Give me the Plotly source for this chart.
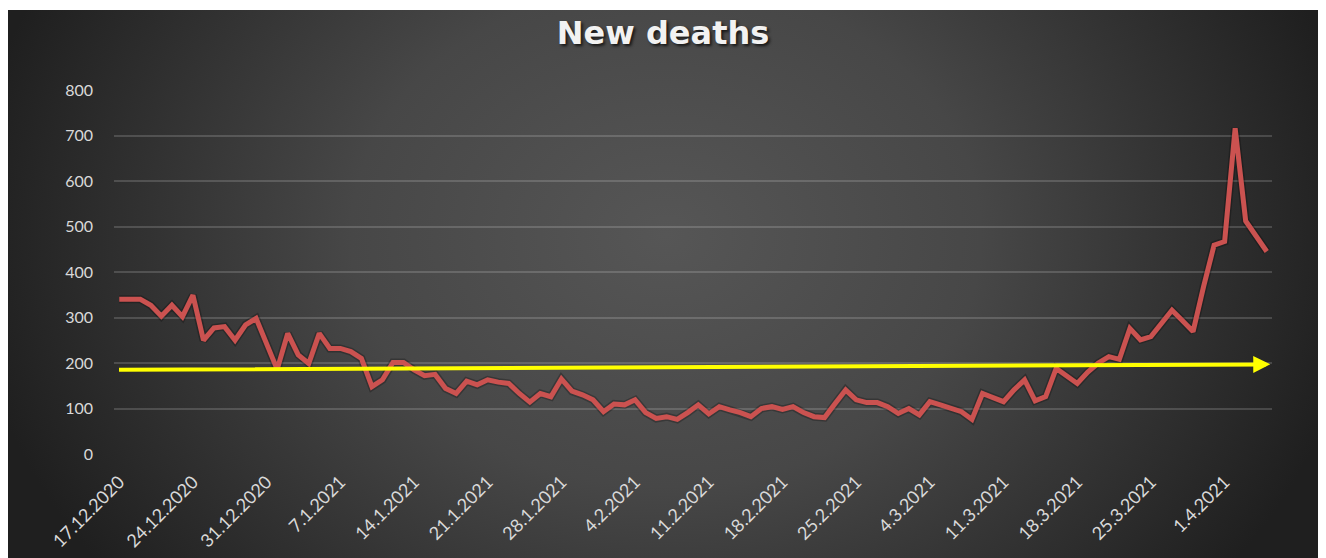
import base64
import pandas as pd
import plotly.graph_objects as go

# ---------------- data ----------------
start_date = "2020-12-17"
deaths = [
    340, 340, 340, 327, 303, 327, 302, 349, 250, 277,
    280, 250, 284, 298, 244, 186, 265, 218, 199, 265,
    232, 232, 225, 210, 148, 163, 201, 201, 185, 172,
    175, 144, 133, 160, 152, 163, 158, 155, 133, 114,
    133, 126, 165, 138, 130, 119, 93, 110, 108, 119,
    91, 78, 82, 76, 91, 108, 88, 104, 97, 91,
    82, 100, 104, 98, 104, 91, 82, 80, 111, 141,
    119, 113, 113, 104, 89, 100, 86, 115, 108, 100,
    93, 76, 133, 124, 115, 141, 163, 117, 126, 188,
    172, 155, 180, 200, 214, 208, 276, 251, 258, 289,
    316, 293, 269, 368, 459, 467, 716, 512, 480, 445,
]
tick_labels = [
    "17.12.2020", "24.12.2020", "31.12.2020", "7.1.2021", "14.1.2021",
    "21.1.2021", "28.1.2021", "4.2.2021", "11.2.2021", "18.2.2021",
    "25.2.2021", "4.3.2021", "11.3.2021", "18.3.2021", "25.3.2021", "1.4.2021",
]
y_ticks = [0, 100, 200, 300, 400, 500, 600, 700, 800]
trend_values = [185, 197]  # yellow arrow: start / end level

dates = pd.date_range(start_date, periods=len(deaths), freq="D")
tick_dates = dates[::7][: len(tick_labels)]

# ---------------- layout geometry (page body has an 8px margin) ----------------
W, H = 1318, 550
ML, MR, MT, MB = 106, 54, 82, 104
pw, ph = W - ML - MR, H - MT - MB
bg_left, bg_top = 0, 2

bw, bh = W - bg_left, H - bg_top
svg = f'''<svg xmlns="http://www.w3.org/2000/svg" width="{bw}" height="{bh}" viewBox="0 0 {bw} {bh}" preserveAspectRatio="none">
<defs><radialGradient id="g" gradientUnits="userSpaceOnUse" cx="658" cy="225" r="700"
 gradientTransform="translate(658 225) scale(1 0.8) translate(-658 -225)">
<stop offset="0" stop-color="#565656"/><stop offset="0.45" stop-color="#474747"/>
<stop offset="1" stop-color="#1f1f1f"/></radialGradient></defs>
<rect width="{bw}" height="{bh}" fill="url(#g)"/></svg>'''
svg_uri = "data:image/svg+xml;base64," + base64.b64encode(svg.encode()).decode()

fig = go.Figure()

# soft dark edge under the red line
fig.add_trace(go.Scatter(
    x=dates, y=deaths, mode="lines",
    line=dict(color="rgba(0,0,0,0.25)", width=8),
    hoverinfo="skip", showlegend=False,
))
fig.add_trace(go.Scatter(
    x=dates, y=deaths, mode="lines", name="New deaths",
    line=dict(color="#CB5250", width=5),
    showlegend=False,
))

half_day = pd.Timedelta(hours=12)
fig.add_annotation(
    x=dates[-1] + pd.Timedelta(hours=8), y=trend_values[1],
    ax=dates[0] - pd.Timedelta(hours=4), ay=trend_values[0],
    xref="x", yref="y", axref="x", ayref="y",
    showarrow=True, arrowhead=2, arrowsize=0.85, arrowwidth=4,
    arrowcolor="#FFFF00", standoff=0, startstandoff=0, text="",
)

fig.add_layout_image(
    source=svg_uri, xref="paper", yref="paper",
    x=(bg_left - ML) / pw, y=(H - MB - bg_top) / ph,
    sizex=bw / pw, sizey=bh / ph,
    xanchor="left", yanchor="top", sizing="stretch", layer="below",
)

fig.update_layout(
    width=W, height=H, autosize=False,
    margin=dict(l=ML, r=MR, t=MT, b=MB, pad=0, autoexpand=False),
    paper_bgcolor="white", plot_bgcolor="rgba(0,0,0,0)",
    title=dict(
        text="<b>New deaths</b>", x=655 / W, xref="container", xanchor="center",
        y=1 - 25 / H, yref="container", yanchor="middle",
        font=dict(family="DejaVu Sans", size=32, color="#F2F2F2",
                  shadow="2px 2px 3px rgba(0,0,0,0.7)"),
    ),
    xaxis=dict(
        range=[dates[0] - half_day, dates[-1] + half_day],
        tickmode="array", tickvals=tick_dates, ticktext=tick_labels,
        tickangle=-45, showgrid=False, zeroline=False, showline=False,
        ticks="", ticklabelstandoff=13, automargin=False,
        tickfont=dict(family="Lato", size=18, color="#D9D9D9"),
    ),
    yaxis=dict(
        range=[0, 800], tickmode="array", tickvals=y_ticks,
        showgrid=True, gridcolor="rgba(255,255,255,0.16)", gridwidth=1.5,
        zeroline=False, showline=False, ticks="", ticklabelstandoff=20,
        automargin=False,
        tickfont=dict(family="Lato", size=16, color="#D9D9D9"),
    ),
)

fig.write_html("out.html")
